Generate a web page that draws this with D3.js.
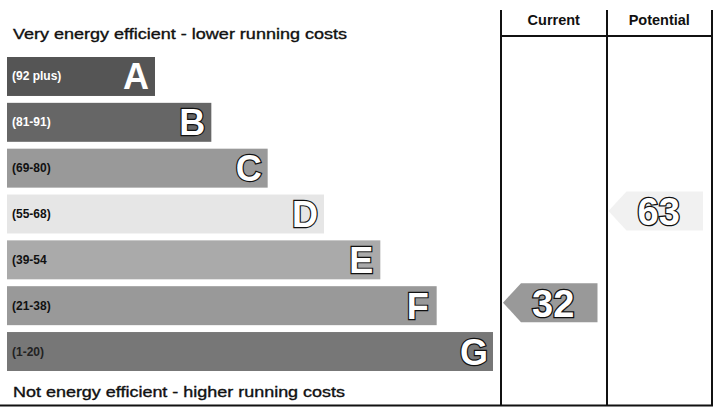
<!DOCTYPE html>
<html><head><meta charset="utf-8">
<script src="https://cdn.jsdelivr.net/npm/d3@7"></script>
<style>html,body{margin:0;padding:0;background:#fff;}svg{display:block;}</style>
</head><body>
<svg id="chart" width="716" height="417"></svg>
<script>
const bands = ["A","B","C","D","E","F","G"];
const ranges = ["(92 plus)","(81-91)","(69-80)","(55-68)","(39-54","(21-38)","(1-20)"];
const minScores = [92,81,69,55,39,21,1];
const fills = ["#555","#666","#999","#e6e6e6","#aaa","#999","#777"];
const labelColors = ["#fff","#fff","#111","#111","#111","#111","#222"];
const headers = ["Current","Potential"];
const ratings = [32,63];
const ratingFills = ["#999","#f1f1f1"];
const topText = "Very energy efficient - lower running costs";
const bottomText = "Not energy efficient - higher running costs";

const svg = d3.select("#chart");
const font = "'Liberation Sans', Arial, sans-serif";

const y = d3.scaleBand().domain(bands).range([57, 371]).paddingInner(0.15);
const x = d3.scaleLinear().domain([0, 6]).range([155, 493]);
const cols = d3.scaleBand().domain(headers).range([501, 712]);

const bandOf = v => bands[minScores.findIndex(m => v >= m)];

// bars
const g = svg.append("g");
g.selectAll("rect.bar").data(bands).join("rect")
  .attr("x", 7).attr("y", d => y(d))
  .attr("width", (d,i) => x(i) - 7).attr("height", y.bandwidth())
  .attr("fill", (d,i) => fills[i]);

g.selectAll("text.range").data(ranges).join("text")
  .attr("x", 12).attr("y", (d,i) => y(bands[i]) + y.bandwidth()/2 + 4)
  .attr("font-family", font).attr("font-weight", "bold").attr("font-size", 12)
  .attr("fill", (d,i) => labelColors[i]).text(d => d);

g.selectAll("text.letter").data(bands).join("text")
  .attr("x", (d,i) => x(i) - 19).attr("y", d => y(d) + y.bandwidth()/2 + 13)
  .attr("text-anchor", "middle")
  .attr("font-family", font).attr("font-weight", "bold").attr("font-size", 36)
  .attr("fill", "#fff").attr("stroke", (d,i) => i === 0 ? "none" : "#111")
  .attr("stroke-width", 2.4).attr("paint-order", "stroke")
  .text(d => d);

// texts
svg.append("text").attr("x", 13).attr("y", 39)
  .attr("font-family", font).attr("font-size", 14.5).attr("fill", "#111")
  .attr("stroke", "#111").attr("stroke-width", 0.35)
  .attr("textLength", 334).attr("lengthAdjust", "spacingAndGlyphs").text(topText);
svg.append("text").attr("x", 13).attr("y", 397)
  .attr("font-family", font).attr("font-size", 14.5).attr("fill", "#111")
  .attr("stroke", "#111").attr("stroke-width", 0.35)
  .attr("textLength", 332).attr("lengthAdjust", "spacingAndGlyphs").text(bottomText);

// headers
svg.selectAll("text.hdr").data(headers).join("text")
  .attr("x", d => cols(d) + cols.bandwidth()/2).attr("y", 25)
  .attr("text-anchor", "middle").attr("font-family", font).attr("font-weight", "bold")
  .attr("font-size", 14.5).attr("fill", "#111").text(d => d);

// rating arrows
headers.forEach((h, i) => {
  const b = bandOf(ratings[i]);
  const x0 = cols(h) + 2, x1 = cols(h) + cols.bandwidth() - 9;
  const y0 = y(b) - 3, y1 = y(b) + y.bandwidth() - 3;
  const ym = (y0 + y1) / 2;
  svg.append("path")
    .attr("d", `M${x0},${ym} L${x0 + 18},${y0} L${x1},${y0} L${x1},${y1} L${x0 + 18},${y1} Z`)
    .attr("fill", ratingFills[i]);
  svg.append("text").attr("x", (x0 + x1) / 2 + 3).attr("y", ym + 14)
    .attr("text-anchor", "middle").attr("font-family", font).attr("font-weight", "bold")
    .attr("font-size", 38).attr("fill", "#fff").attr("stroke", "#111")
    .attr("stroke-width", 2.6).attr("paint-order", "stroke").text(ratings[i]);
});

// frame lines
const line = (x1, y1, x2, y2) => svg.append("line")
  .attr("x1", x1).attr("y1", y1).attr("x2", x2).attr("y2", y2)
  .attr("stroke", "#111").attr("stroke-width", 2);
line(501, 10, 501, 406);
line(607, 10, 607, 406);
line(712, 10, 712, 406);
line(501, 36, 712, 36);
line(0, 405.5, 713, 405.5);
</script>
</body></html>
